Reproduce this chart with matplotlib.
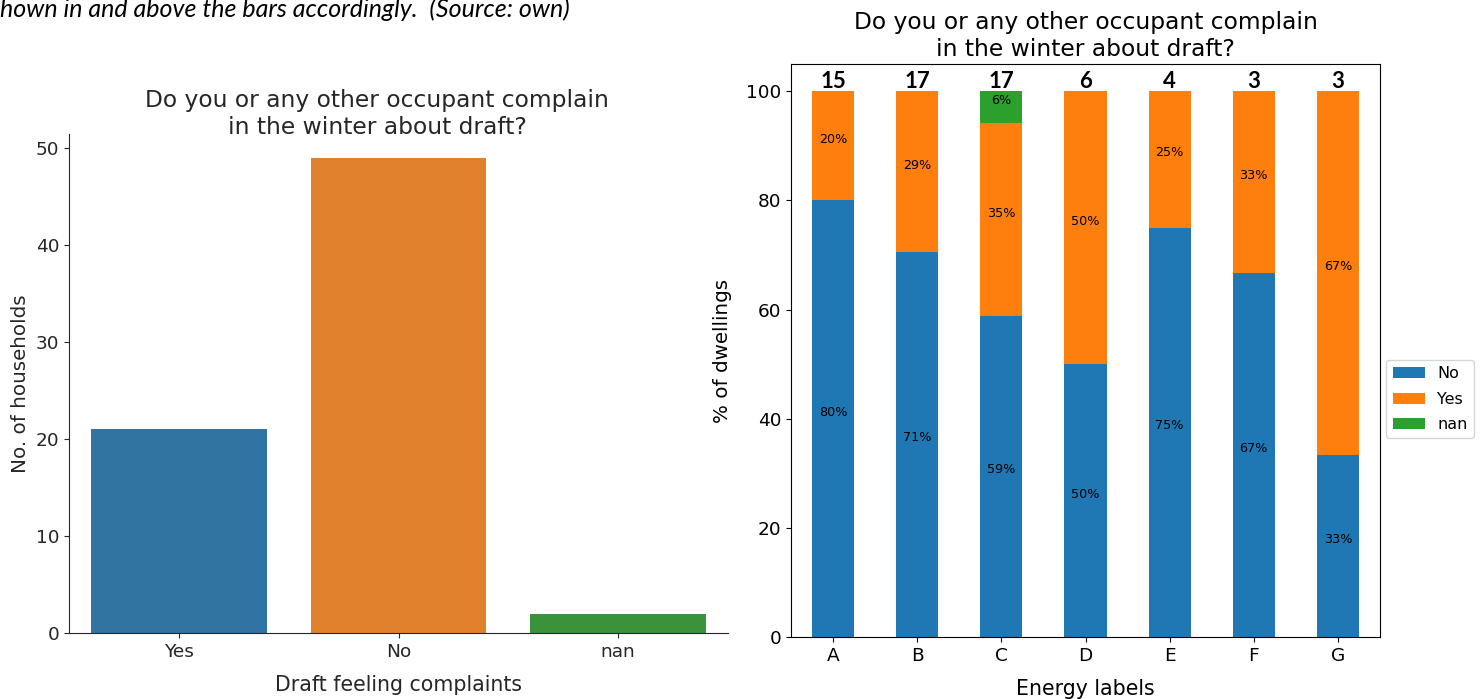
import matplotlib
matplotlib.use("Agg")
import matplotlib.pyplot as plt
import numpy as np

# ---- data ----
left_categories = ["Yes", "No", "nan"]
left_counts = [21, 49, 2]
left_colors = ["#3274a1", "#e1812c", "#3a923a"]

energy_labels = ["A", "B", "C", "D", "E", "F", "G"]
n_dwellings = [15, 17, 17, 6, 4, 3, 3]
count_no = [12, 12, 10, 3, 3, 2, 1]
count_yes = [3, 5, 6, 3, 1, 1, 2]
count_nan = [0, 0, 1, 0, 0, 0, 0]
series_names = ["No", "Yes", "nan"]
series_colors = ["#1f77b4", "#ff7f0e", "#2ca02c"]

title = "Do you or any other occupant complain\nin the winter about draft?"
caption = "hown in and above the bars accordingly.  (Source: own)"

W, H = 1483, 699
fig = plt.figure(figsize=(W / 100, H / 100), dpi=100)

def fx(px):
    return px / W

def fy(py):
    return 1 - py / H

TITLE_FS = 16.8
TICK_FS = 13.3
XLAB_FS = 14.8
YLAB_FS = 14.3

# ---- caption ----
fig.text(fx(0), fy(17), caption, fontsize=18, style="italic", family="Lato",
         ha="left", va="baseline", color="black")

# ---- left chart (seaborn-like countplot) ----
axL = fig.add_axes([fx(69), fy(633), fx(728) - fx(69), fy(134) - fy(633)])
xL = np.arange(len(left_categories))
axL.bar(xL, left_counts, width=0.8, color=left_colors)
axL.set_xlim(-0.5, len(left_categories) - 0.5)
axL.set_ylim(0, max(left_counts) * 1.05)
axL.set_xticks(xL)
axL.set_xticklabels(left_categories)
axL.set_yticks([0, 10, 20, 30, 40, 50])
axL.tick_params(labelsize=TICK_FS, colors="#262626")
axL.spines["top"].set_visible(False)
axL.spines["right"].set_visible(False)
for s in ["left", "bottom"]:
    axL.spines[s].set_color("#262626")
axL.set_xlabel("Draft feeling complaints", fontsize=XLAB_FS, color="#262626",
               labelpad=10)
axL.set_ylabel("No. of households", fontsize=YLAB_FS, color="#262626",
               labelpad=4)
fig.text(fx(377), fy(114), title, fontsize=TITLE_FS, ha="center", va="center",
         color="#262626", linespacing=1.2)

# ---- right chart (stacked percentage bars) ----
axR = fig.add_axes([fx(791), fy(637), fx(1380) - fx(791), fy(64) - fy(637)])
x = np.arange(len(energy_labels))
n = np.array(n_dwellings, dtype=float)
series = [np.array(count_no) / n * 100, np.array(count_yes) / n * 100,
          np.array(count_nan) / n * 100]
bottom = np.zeros(len(x))
for vals, name, col in zip(series, series_names, series_colors):
    axR.bar(x, vals, width=0.5, bottom=bottom, color=col, label=name)
    for xi, v, b0 in zip(x, vals, bottom):
        if v > 0:
            axR.text(xi, b0 + v / 2, f"{v:.0f}%", ha="center", va="bottom",
                     fontsize=9.2, color="black")
    bottom = bottom + vals
for xi, cnt in zip(x, n_dwellings):
    axR.text(xi, 100.6, str(cnt), ha="center", va="baseline", fontsize=16,
             fontweight="bold", family="Lato", color="black")
axR.set_xlim(-0.5, len(x) - 0.5)
axR.set_ylim(0, 105)
axR.set_xticks(x)
axR.set_xticklabels(energy_labels, rotation=0)
axR.set_yticks([0, 20, 40, 60, 80, 100])
axR.tick_params(labelsize=TICK_FS)
axR.set_xlabel("Energy labels", fontsize=XLAB_FS, labelpad=10)
axR.set_ylabel("% of dwellings", fontsize=YLAB_FS, labelpad=10)
axR.set_title(title, fontsize=TITLE_FS, linespacing=1.2, pad=6)
axR.legend(loc="center left", bbox_to_anchor=(0.997, 0.415), fontsize=11.5,
           labelspacing=0.65, frameon=True)

fig.savefig("out.png", dpi=100)
